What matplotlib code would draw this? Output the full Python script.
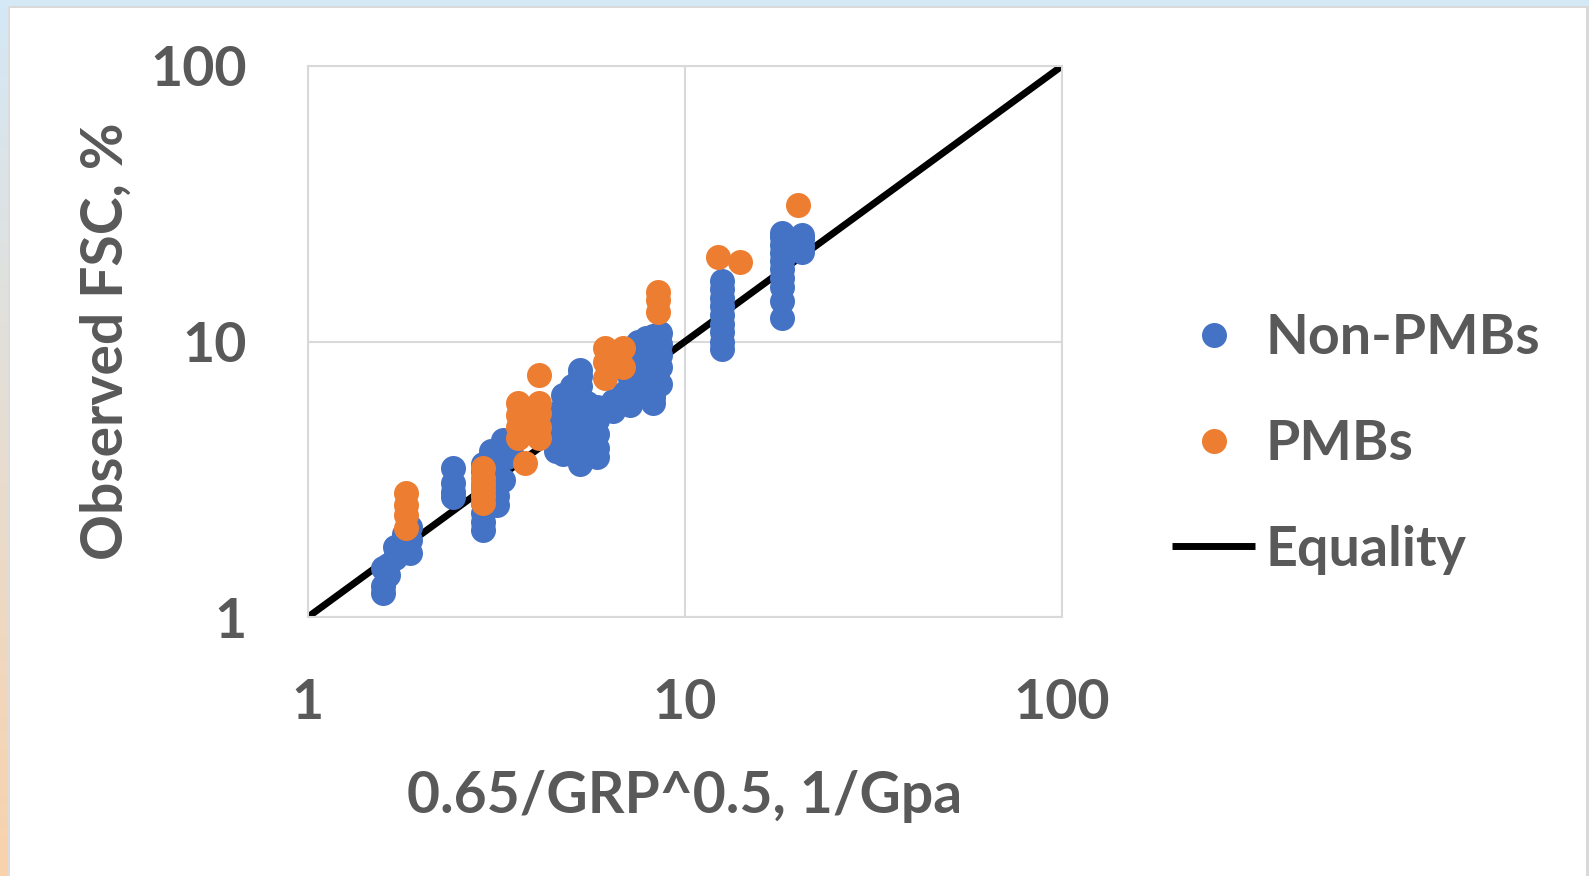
import numpy as np
import matplotlib
matplotlib.use("Agg")
import matplotlib.pyplot as plt
from matplotlib.patches import Rectangle

plt.rcParams['font.family'] = ['Lato', 'DejaVu Sans']
plt.rcParams['font.weight'] = 'bold'
plt.rcParams['axes.labelweight'] = 'bold'

# Non-PMBs (blue) - x then y
non_pmb_x = [1.58, 1.58, 1.58, 1.63, 1.63, 1.70, 1.70, 1.80, 1.80, 1.86, 1.86, 1.86,
             2.42, 2.42, 2.42, 2.42,
             2.91, 2.91, 2.91, 2.91, 2.91, 2.91, 2.91,
             3.05, 3.05, 3.05, 3.17, 3.17, 3.17, 3.17, 3.17, 3.30, 3.30, 3.37, 3.37, 3.45, 3.45,
             4.55, 4.55, 4.55, 4.55,
             4.75, 4.75, 4.75, 4.75, 4.75, 4.75,
             5.0, 5.0, 5.0, 5.0, 5.0,
             5.26, 5.26, 5.26, 5.26, 5.26, 5.26, 5.26, 5.26, 5.26,
             5.5, 5.5, 5.5, 5.5,
             5.83, 5.83, 5.83, 5.83, 5.83,
             6.44, 6.44, 6.44, 6.9, 6.9,
             7.15, 7.15, 7.15, 7.15,
             7.5, 7.5, 7.5, 7.5, 7.5, 7.5,
             7.9, 7.9, 7.9, 7.9, 7.9, 7.9,
             8.2, 8.2, 8.2, 8.2, 8.2, 8.2, 8.2, 8.2,
             8.6, 8.6, 8.6, 8.6, 8.6,
             12.5, 12.5, 12.5, 12.5, 12.5, 12.5, 12.5, 12.5, 12.5,
             18.1, 18.1, 18.1, 18.1, 18.1, 18.1, 18.1, 18.1, 18.1, 18.1,
             20.4, 20.4, 20.4, 20.4]
non_pmb_y = [1.22, 1.30, 1.51, 1.42, 1.55, 1.64, 1.80, 1.85, 2.00, 1.71, 1.90, 2.12,
             2.73, 2.85, 3.07, 3.47,
             2.07, 2.22, 2.38, 2.60, 3.00, 3.40, 3.60,
             3.60, 3.80, 4.00, 2.55, 2.75, 3.00, 3.30, 3.60, 3.14, 4.39, 3.80, 4.05, 3.95, 4.30,
             4.0, 4.4, 4.9, 5.4,
             3.9, 4.3, 4.8, 5.3, 5.8, 6.4,
             4.5, 5.1, 5.7, 6.4, 6.9,
             3.6, 4.0, 4.5, 5.0, 5.6, 6.2, 6.9, 7.5, 7.9,
             4.2, 4.8, 5.4, 6.0,
             3.8, 4.1, 4.6, 5.2, 5.8,
             5.6, 5.8, 6.1, 6.0, 6.5,
             5.9, 6.3, 6.8, 7.4,
             6.4, 7.0, 7.7, 8.4, 9.2, 10.0,
             6.6, 7.2, 7.7, 8.5, 9.4, 10.3,
             6.0, 6.3, 6.9, 7.6, 8.3, 9.1, 10.0, 10.5,
             7.0, 8.1, 8.9, 9.8, 10.7,
             9.4, 10.0, 10.8, 11.6, 12.5, 13.4, 14.4, 15.5, 16.6,
             12.2, 14.0, 15.8, 17.0, 18.3, 19.6, 21.0, 22.4, 24.0, 24.8,
             21.1, 22.3, 23.5, 24.4]

# PMBs (orange)
pmb_x = [1.82, 1.82, 1.82, 1.82,
         2.91, 2.91, 2.91, 2.91, 2.91, 2.91,
         3.61, 3.61, 3.61, 3.61, 3.76,
         4.10, 4.10, 4.10, 4.10, 4.10,
         6.13, 6.13, 6.13, 6.85, 6.85,
         8.48, 8.48, 8.48,
         12.2, 14.0, 19.9]
pmb_y = [2.10, 2.35, 2.55, 2.82,
         2.59, 2.75, 2.89, 3.05, 3.20, 3.47,
         4.47, 4.89, 5.41, 5.98, 3.62,
         4.47, 4.89, 5.50, 5.98, 7.56,
         7.4, 8.4, 9.5, 8.1, 9.5,
         12.8, 14.2, 15.1,
         20.3, 19.4, 31.3]

# equality line
eq_x = [1, 100]
eq_y = [1, 100]

ticks = [1, 10, 100]
tick_labels = ['1', '10', '100']

text_col = '#595959'
grid_col = '#D9D9D9'
blue = '#4472C4'
orange = '#ED7D31'

W, H = 1589, 876
fig = plt.figure(figsize=(W / 100, H / 100), dpi=100)
fig.patch.set_facecolor('white')

# window-ish frame: top strip, left gradient strip, thin grey borders
fig.patches.append(Rectangle((0, 1 - 6 / H), 1, 6 / H, transform=fig.transFigure,
                             facecolor='#D4E8F6', edgecolor='none', zorder=-5))
fig.patches.append(Rectangle((0, 1 - 8 / H), 1, 2 / H, transform=fig.transFigure,
                             facecolor='#D9D9D9', edgecolor='none', zorder=-4))
fig.patches.append(Rectangle((8 / W, 0), 2 / W, 1 - 6 / H, transform=fig.transFigure,
                             facecolor='#DCDCDC', edgecolor='none', zorder=-4))
fig.patches.append(Rectangle((1586 / W, 0), 3 / W, 1 - 6 / H, transform=fig.transFigure,
                             facecolor='#D9D9D9', edgecolor='none', zorder=-4))
gax = fig.add_axes([0, 0, 8 / W, 1 - 6 / H])
top_c = np.array([0xD4, 0xE8, 0xF6]) / 255
bot_c = np.array([0xF9, 0xD2, 0xAC]) / 255
t = np.linspace(0, 1, 256)[:, None]
grad = (top_c * (1 - t) + bot_c * t)[:, None, :]
gax.imshow(grad, aspect='auto', extent=[0, 1, 0, 1])
gax.axis('off')

ax = fig.add_axes([308 / W, 1 - 617 / H, (1062 - 308) / W, (617 - 66) / H])
ax.set_xscale('log')
ax.set_yscale('log')

ax.plot(eq_x, eq_y, color='black', lw=5, solid_capstyle='butt', zorder=2, label='Equality')
ax.plot(non_pmb_x, non_pmb_y, 'o', ls='none', ms=18, mew=0, color=blue, zorder=3, label='Non-PMBs')
ax.plot(pmb_x, pmb_y, 'o', ls='none', ms=18, mew=0, color=orange, zorder=4, label='PMBs')

ax.set_xlim(1, 100)
ax.set_ylim(1, 100)
ax.set_xticks(ticks)
ax.set_xticklabels(tick_labels)
ax.set_yticks(ticks)
ax.set_yticklabels(tick_labels)
ax.minorticks_off()
ax.tick_params(length=0, labelsize=40, labelcolor=text_col, pad=44)
ax.grid(True, color=grid_col, lw=1.5, zorder=0)
ax.set_axisbelow(True)
for s in ax.spines.values():
    s.set_color(grid_col)
    s.set_linewidth(1.5)

ax.set_xlabel('0.65/GRP^0.5, 1/Gpa', fontsize=41, color=text_col, labelpad=30)
ax.set_ylabel('Observed FSC, %', fontsize=41, color=text_col, va='center')
ax.yaxis.set_label_coords(-0.268, 0.5)

handles, labels = ax.get_legend_handles_labels()
order = [1, 2, 0]
leg = fig.legend([handles[i] for i in order], [labels[i] for i in order],
                 loc='center left', bbox_to_anchor=(1172 / W, 1 - 444 / H),
                 frameon=False, fontsize=40, labelcolor=text_col,
                 handlelength=1.5, handletextpad=0.18, labelspacing=1.0,
                 borderpad=0, borderaxespad=0, numpoints=1)

fig.savefig('out.png', dpi=100, facecolor=fig.get_facecolor())
